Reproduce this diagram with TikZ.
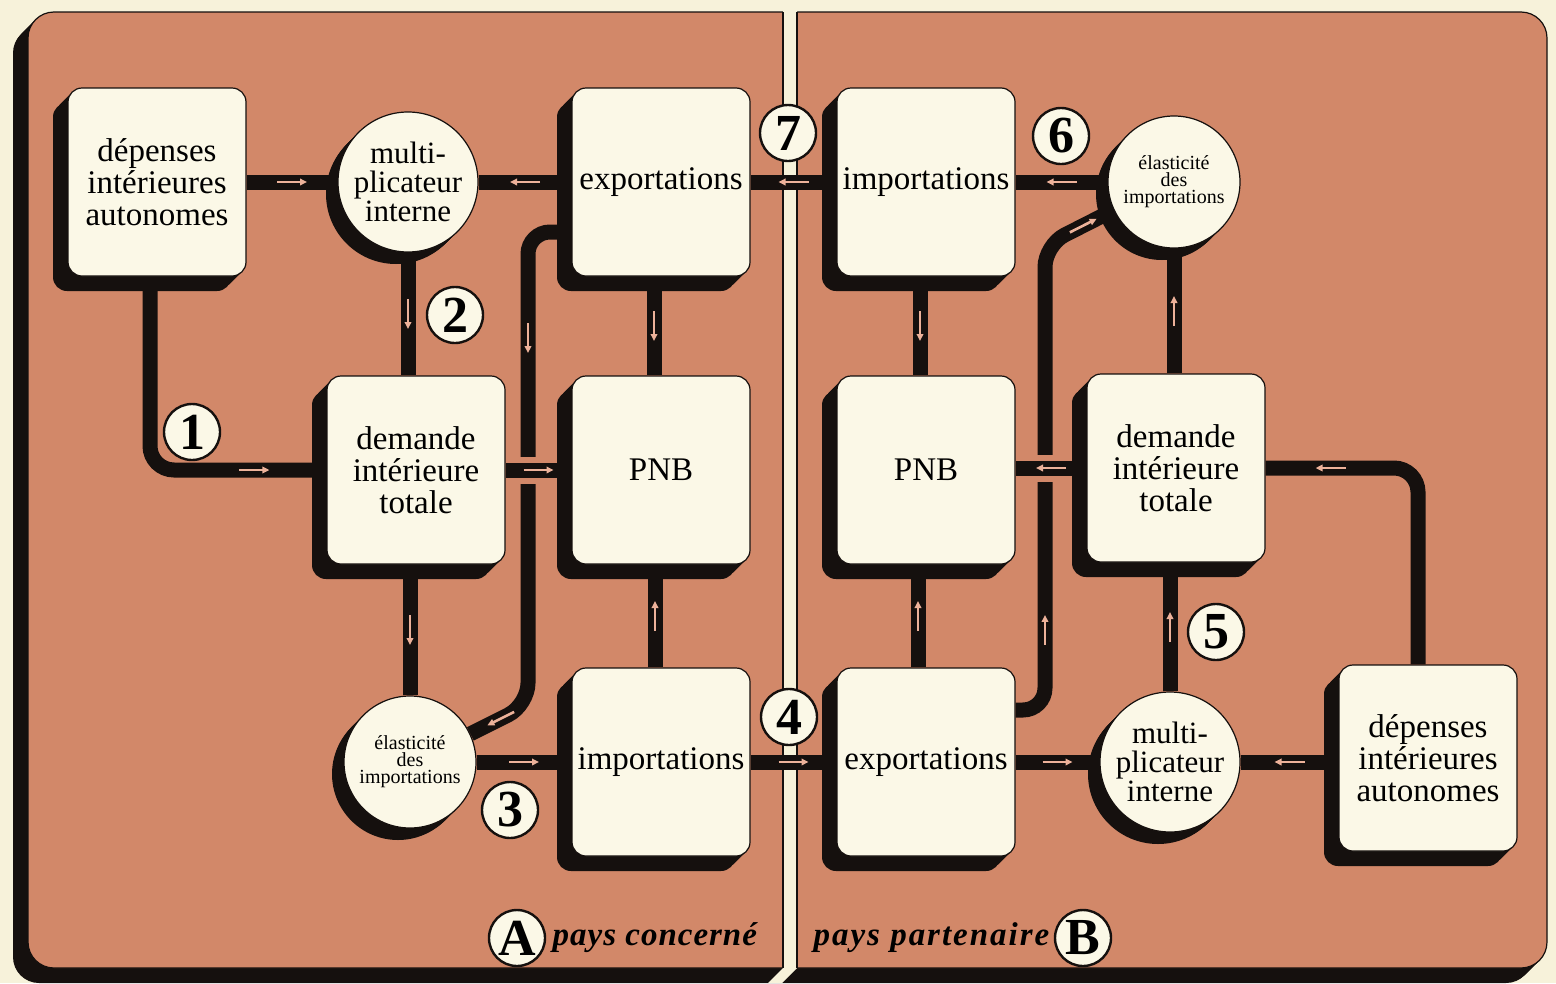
\documentclass[tikz,border=0pt]{standalone}
\usepackage{fontspec}
\setmainfont{Liberation Serif}
\usetikzlibrary{arrows.meta,shadows,decorations.markings,positioning}
\definecolor{bgcream}{HTML}{F7F2DA}
\definecolor{panelpeach}{HTML}{D28869}
\definecolor{boxface}{HTML}{FBF8E7}
\definecolor{inkblack}{HTML}{15100E}
\definecolor{marklight}{HTML}{EDB29A}
\pgfdeclarelayer{back}
\pgfdeclarelayer{links}
\pgfsetlayers{back,links,main}
\newcommand{\blockfont}{\fontsize{33}{32}\selectfont}
\newcommand{\multfont}{\fontsize{31}{29}\selectfont}
\newcommand{\elafont}{\fontsize{20}{17}\selectfont}
\newcommand{\numfont}{\fontsize{52}{52}\selectfont\bfseries}
\newcommand{\paysfont}{\fontsize{33}{33}\selectfont\bfseries\itshape\addfontfeature{LetterSpace=3}}
\newcommand{\paysBfont}{\fontsize{33}{33}\selectfont\bfseries\itshape\addfontfeature{LetterSpace=6}}
\tikzset{
  shadowcopy/.style={drop shadow={shadow xshift=-#1,shadow yshift=-#1,fill=inkblack,opacity=1}},
  extrude/.style={shadowcopy=2pt,shadowcopy=4pt,shadowcopy=6pt,shadowcopy=8pt,shadowcopy=10pt,
    shadowcopy=12pt,shadowcopy=#1},
  blockbox/.style={draw=inkblack,line width=1.2pt,fill=boxface,rounded corners=14pt,
    minimum width=178pt,minimum height=188pt,inner sep=0pt,align=center,font=\blockfont,extrude=15pt},
  multnode/.style={circle,draw=inkblack,line width=1.2pt,fill=boxface,minimum size=140pt,
    inner sep=0pt,align=center,font=\multfont,extrude=11pt},
  elanode/.style={multnode,minimum size=132pt,font=\elafont},
  numnode/.style={circle,draw=inkblack,line width=2.4pt,fill=boxface,minimum size=56pt,inner sep=0pt,font=\numfont},
  flow/.style={draw=inkblack,line width=15pt},
  bridge/.style={preaction={draw=panelpeach,line width=27pt}},
  markarrow/.style={draw=marklight,line width=2.6pt,-{Triangle[length=7pt,width=6.5pt]}},
  flowmark/.style={postaction={decorate,decoration={markings,mark=at position #1 with {\draw[markarrow] (-15pt,0) -- (15pt,0);}}}}
}
\begin{document}
\begin{tikzpicture}[x=1pt,y=-1pt]
  \useasboundingbox (0,0) rectangle (1556,983);
  \begin{pgfonlayer}{back}
    \fill[bgcream] (0,0) rectangle (1556,983);
    \foreach \s in {1,...,15}
      \fill[inkblack,xshift=-\s pt,yshift=-\s pt,rounded corners=26pt] (28,12) rectangle (1547,968);
    \filldraw[fill=panelpeach,draw=inkblack,line width=1.2pt,rounded corners=26pt] (28,12) rectangle (1547,968);
    \fill[bgcream] (783,0) -- (797,0) -- (797,968) -- (782,983) -- (768,983) -- (783,968) -- cycle;
    \draw[inkblack,line width=1.2pt] (783,12) -- (783,968) (797,12) -- (797,968);
  \end{pgfonlayer}

  % pays A
  \node[blockbox] (depA) at (157,182) {dépenses\\intérieures\\autonomes};
  \node[multnode] (multA) at (408,182) {multi-\\plicateur\\interne};
  \node[blockbox] (expA) at (661,182) {exportations};
  \node[blockbox] (demA) at (416,470) {demande\\intérieure\\totale};
  \node[blockbox] (pnbA) at (661,470) {PNB};
  \node[elanode] (elaA) at (410,762) {élasticité\\des\\importations};
  \node[blockbox] (impA) at (661,762) {importations};
  % pays B
  \node[blockbox] (impB) at (926,182) {importations};
  \node[elanode] (elaB) at (1174,182) {élasticité\\des\\importations};
  \node[blockbox] (pnbB) at (926,470) {PNB};
  \node[blockbox] (demB) at (1176,468) {demande\\intérieure\\totale};
  \node[blockbox] (expB) at (926,762) {exportations};
  \node[multnode] (multB) at (1170,762) {multi-\\plicateur\\interne};
  \node[blockbox,minimum height=186pt] (depB) at (1428,758) {dépenses\\intérieures\\autonomes};

  \node[numnode] (n1) at (192,432) {1};
  \node[numnode] (n2) at (455,315) {2};
  \node[numnode] (n3) at (510,810) {3};
  \node[numnode] (n4) at (789,717) {4};
  \node[numnode] (n5) at (1216,632) {5};
  \node[numnode] (n6) at (1061,136) {6};
  \node[numnode] (n7) at (788,133) {7};

  \node[numnode] (circA) at (517,938) {A};
  \node[font=\paysfont,right=3pt of circA] (paysA) {pays concerné};
  \node[numnode] (circB) at (1083,938) {B};
  \node[font=\paysBfont,left=1pt of circB] (paysB) {pays partenaire};

  \begin{pgfonlayer}{links}
    \coordinate (kneeA) at (528,705);
    \coordinate (kneeB) at (1045,245);
    \draw[flow,flowmark=0.5] (depA) -- (multA);
    \draw[flow,flowmark=0.5] (expA) -- (multA);
    \draw[flow,flowmark=0.5] (impB) -- (expA);
    \draw[flow,flowmark=0.5] (elaB) -- (impB);
    \draw[flow,flowmark=0.5] (multA.south) -- (multA.south |- demA.north);
    \draw[flow,flowmark=0.5] (elaA.north |- demA.south) -- (elaA.north);
    \draw[flow,rounded corners=24pt,flowmark=-72pt] ([xshift=-7pt]depA.south) |- (demA.west);
    \draw[flow,flowmark=0.5] ([xshift=-7pt]expA.south) -- ([xshift=-7pt]pnbA.north);
    \draw[flow,flowmark=0.5] ([xshift=-6pt]impA.north) -- ([xshift=-6pt]pnbA.south);
    \draw[flow,flowmark=0.5] (elaA) -- (impA);
    \draw[flow,flowmark=0.5] (impA) -- (expB);
    \draw[flow,flowmark=0.5] (expB) -- (multB);
    \draw[flow,flowmark=0.5] (depB.west |- multB) -- (multB);
    \draw[flow,rounded corners=24pt,flowmark=-65pt] ([xshift=-10pt]depB.north) |- (demB.east);
    \draw[flow,flowmark=0.5] ([xshift=-6pt]impB.south) -- ([xshift=-6pt]pnbB.north);
    \draw[flow,flowmark=0.5] ([xshift=-8pt]expB.north) -- ([xshift=-8pt]pnbB.south);
    \draw[flow,flowmark=0.5] (elaB.south |- demB.north) -- (elaB.south);
    \draw[flow,flowmark=0.5] (multB.north) -- (multB.north |- demB.south);
    \draw[flow,rounded corners=22pt,flowmark=140pt,flowmark=-34pt] ([yshift=-50pt]expA.west) -| (kneeA) -- (elaA.25);
    \draw[flow,bridge,flowmark=0.5] (demA) -- (pnbA);
    \draw[flow,rounded corners=22pt,flowmark=100pt,flowmark=-34pt] ([yshift=52pt]expB.east) -| (kneeB) -- (elaB.205);
    \draw[flow,bridge,flowmark=0.5] (demB.west) -- (demB.west -| pnbB.east);
  \end{pgfonlayer}
\end{tikzpicture}
\end{document}
